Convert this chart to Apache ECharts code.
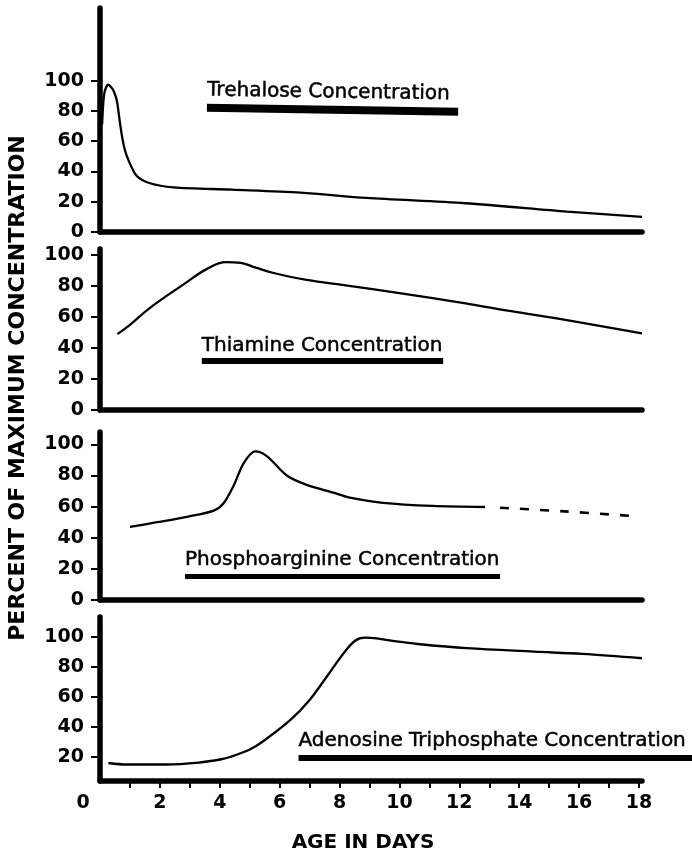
<!DOCTYPE html>
<html>
<head>
<meta charset="utf-8">
<title>Percent of maximum concentration by age</title>
<script src="https://cdn.jsdelivr.net/npm/echarts@6/dist/echarts.min.js"></script>
<style>
  html, body { margin: 0; padding: 0; background: #fff; }
  #chart { width: 692px; height: 859px; }
</style>
</head>
<body>
<div id="chart"></div>
<script>
// [age in days, percent of maximum]
const trehalose = [
  [0.07, 71], [0.13, 90], [0.2, 95.5], [0.28, 97.3], [0.38, 95.5], [0.46, 93],
  [0.56, 87], [0.64, 76], [0.72, 65], [0.82, 55], [0.95, 47.5], [1.23, 37],
  [1.67, 32.2], [2.45, 29.5], [4.4, 28], [6.7, 26], [8.9, 22.5], [12.2, 19],
  [15.6, 13.5], [18.1, 10]
];
const thiamine = [
  [0.58, 49], [1.0, 55], [1.67, 66], [2.78, 81], [3.56, 91], [4.2, 95.5],
  [4.7, 95], [5.2, 92], [5.8, 88.5], [6.9, 84], [8.2, 80.5], [10, 75.5],
  [12, 69.5], [13.5, 64.5], [15.3, 59], [18.1, 49.5]
];
const phosphoarginine = [
  [1.0, 47], [1.9, 50], [2.9, 53.5], [3.8, 57.5], [4.12, 62], [4.45, 73],
  [4.8, 88], [5.18, 95.5], [5.57, 92.5], [6.24, 80], [6.9, 74], [7.8, 69],
  [8.3, 66], [9.45, 62.5], [11.1, 60.5], [12.86, 59.8]
];
const phosphoarginineExtrapolated = [[13.36, 59.3], [15.5, 57], [17.9, 53.8]];
const atp = [
  [0.28, 16], [0.9, 15], [2.2, 15], [3.3, 16.3], [4.05, 18.5], [4.34, 20],
  [5.0, 25], [5.45, 30.5], [6.35, 44.5], [7.0, 58], [7.57, 73.5], [8.13, 89],
  [8.52, 97.5], [8.85, 99.5], [9.24, 99], [9.9, 97], [10.6, 95.3], [12.25, 92.5],
  [14.5, 90.2], [16.1, 88.7], [18.1, 85.8]
];

const dayTicks = [1, 2, 3, 4, 5, 6, 7, 8, 9, 10, 11, 12, 13, 14, 15, 16, 17, 18];
const dayLabels = [0, 2, 4, 6, 8, 10, 12, 14, 16, 18];
const percentTicks = [0, 20, 40, 60, 80, 100];
const percentTicksAtp = [20, 40, 60, 80, 100];

const labelNames = [
  'Trehalose Concentration',
  'Thiamine Concentration',
  'Phosphoarginine Concentration',
  'Adenosine Triphosphate Concentration'
];

const chart = echarts.init(document.getElementById('chart'));
const FONT = 'DejaVu Sans';
const INK = '#000';

// panel frames
const panels = [
  { top: 8, height: 224, min: 0, max: 148, ticks: percentTicks },
  { top: 249, height: 161, min: 0, max: 104, ticks: percentTicks },
  { top: 432, height: 168, min: 0, max: 108, ticks: percentTicks },
  { top: 617, height: 164, min: 4, max: 113.3, ticks: percentTicksAtp }
];

const grid = panels.map(p => ({ left: 100, width: 542, top: p.top, height: p.height }));

const numText = { color: INK, fontFamily: FONT, fontSize: 19, fontWeight: 'bold' };

const xAxis = panels.map((p, i) => {
  const last = i === panels.length - 1;
  return {
    type: 'value', gridIndex: i, min: 0, max: 18.1,
    axisLine: { onZero: false, lineStyle: { color: INK, width: 5.5 } },
    splitLine: { show: false },
    axisTick: {
      show: last, customValues: dayTicks, length: 7, inside: false,
      lineStyle: { color: INK, width: 2 }
    },
    axisLabel: Object.assign({
      show: last, customValues: dayLabels, margin: 13,
      formatter: v => (v === 0 ? '{z|0}' : String(v)),
      rich: { z: Object.assign({ padding: [0, 34, 0, 0] }, numText) }
    }, numText),
    name: last ? 'AGE IN DAYS' : '',
    nameLocation: 'middle', nameGap: 52,
    nameTextStyle: {
      color: INK, fontFamily: FONT, fontSize: 20, fontWeight: 'bold',
      padding: [0, 16, 0, 0]
    }
  };
});

const yAxis = panels.map((p, i) => ({
  type: 'value', gridIndex: i, min: p.min, max: p.max,
  axisLine: { show: true, lineStyle: { color: INK, width: 5.5 } },
  splitLine: { show: false },
  axisTick: { show: true, customValues: p.ticks, length: 9, lineStyle: { color: INK, width: 2 } },
  axisLabel: Object.assign({ customValues: p.ticks, margin: 16 }, numText)
}));

const lineStyle = { color: INK, width: 2.3 };

function labelBar(text, from, to, width, dist) {
  return {
    silent: true, symbol: 'none', animation: false,
    lineStyle: { color: INK, width: width, type: 'solid' },
    label: {
      show: true, position: 'insideStartTop', formatter: text, distance: [0, dist],
      color: INK, fontFamily: FONT, fontSize: 20,
      textBorderColor: INK, textBorderWidth: 0.5
    },
    emphasis: { disabled: true },
    data: [[from, to]]
  };
}

const series = [
  {
    type: 'line', xAxisIndex: 0, yAxisIndex: 0, data: trehalose, smooth: 0.3,
    showSymbol: false, lineStyle: lineStyle,
    markLine: labelBar(labelNames[0], { coord: [3.57, 82.1] }, { coord: [11.96, 79.5] }, 8, 7.5)
  },
  {
    type: 'line', xAxisIndex: 1, yAxisIndex: 1, data: thiamine, smooth: 0.4,
    showSymbol: false, lineStyle: lineStyle,
    markLine: labelBar(labelNames[1], { coord: [3.4, 31.6] }, { coord: [11.46, 31.6] }, 6, 5)
  },
  {
    type: 'line', xAxisIndex: 2, yAxisIndex: 2, data: phosphoarginine, smooth: 0.3,
    showSymbol: false, lineStyle: lineStyle,
    markLine: labelBar(labelNames[2], { coord: [2.84, 15.5] }, { coord: [13.36, 15.5] }, 5, 6.3)
  },
  {
    type: 'line', xAxisIndex: 2, yAxisIndex: 2, data: phosphoarginineExtrapolated, smooth: 0.3,
    showSymbol: false, lineStyle: { color: INK, width: 2.6, type: [9, 11] }
  },
  {
    type: 'line', xAxisIndex: 3, yAxisIndex: 3, data: atp, smooth: 0.35,
    showSymbol: false, lineStyle: lineStyle,
    markLine: labelBar(labelNames[3], { coord: [6.63, 19.3] }, { x: 692, y: 758 }, 6, 7)
  }
];

chart.setOption({
  animation: false,
  backgroundColor: '#fff',
  grid: grid,
  xAxis: xAxis,
  yAxis: yAxis,
  series: series,
  graphic: [{
    type: 'text', x: 18, y: 388, rotation: Math.PI / 2,
    style: {
      text: 'PERCENT OF MAXIMUM CONCENTRATION', x: 0, y: 0,
      align: 'center', verticalAlign: 'middle',
      font: 'bold 22px "DejaVu Sans"', fill: INK
    }
  }]
});
</script>
</body>
</html>
